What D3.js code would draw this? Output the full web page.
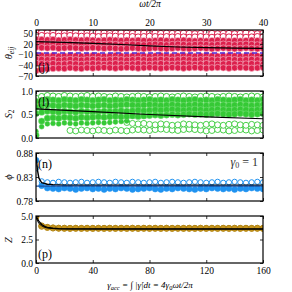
<!DOCTYPE html>
<html><head><meta charset="utf-8">
<script src="https://cdn.jsdelivr.net/npm/d3@7"></script>
<style>body{margin:0;background:#fff}svg{display:block}text{font-family:"Liberation Serif","DejaVu Serif",serif}</style>
</head><body><svg id="c" width="292" height="292"></svg>
<script>
// ---- data ----
const cycles = [0,1,2,3,4,5,6,7,8,9,10,11,12,13,14,15,16,17,18,19,20,21,22,23,24,25,26,27,28,29,30,31,32,33,34,35,36,37,38,39,40];
const topTicks = [0,10,20,30,40];
const gammaTicks = [0,40,80,120,160];

const thetaOpenA = [54,53,52,53,52,51,52,53,52,51,52,52,51,50,51,52,51,50,51,51,50,51,50,51,50,50,51,50,49,50,51,50,49,50,50,49,50,51,50,49,50];
const thetaOpenB = [45,44,43,44,42,43,44,43,42,43,42,41,42,43,42,41,42,41,40,41,42,41,40,41,40,41,40,39,40,41,40,39,40,41,40,39,40,39,40,41,40];
const thetaFillA = [34,33,32,33,31,32,33,32,31,32,31,30,31,32,31,30,31,30,31,30,29,30,31,30,29,30,31,30,29,30,29,30,31,30,29,30,29,30,31,30,29];
const thetaFillB = [22,21,20,21,19,20,21,20,19,20,21,20,19,20,19,18,19,20,19,18,19,20,19,18,19,20,19,18,19,20,19,18,19,20,19,18,19,20,19,18,19];
const thetaFillC = [11,10,9,10,8,9,10,9,8,9,10,9,8,9,8,7,8,9,8,7,8,9,8,7,8,9,8,7,8,9,8,7,8,9,8,7,8,9,8,7,8];
const thetaFillD = [-11,-12,-13,-12,-14,-13,-12,-13,-14,-13,-12,-13,-14,-13,-12,-13,-14,-13,-12,-13,-14,-13,-12,-13,-14,-13,-12,-13,-14,-13,-12,-13,-14,-13,-12,-13,-14,-13,-12,-13,-14];
const thetaFillE = [-22,-23,-24,-23,-25,-24,-23,-24,-25,-24,-23,-24,-25,-24,-23,-24,-25,-24,-23,-24,-25,-24,-23,-24,-25,-24,-23,-24,-25,-24,-23,-24,-25,-24,-23,-24,-25,-24,-23,-24,-25];
const thetaFillF = [-34,-35,-36,-35,-37,-36,-35,-36,-37,-36,-35,-36,-37,-36,-35,-36,-37,-36,-35,-36,-37,-36,-35,-36,-37,-36,-35,-36,-37,-36,-35,-36,-37,-36,-35,-36,-37,-36,-35,-36,-37];
const thetaFillG = [-55,-52,-50,-49,-48,-49,-47,-48,-49,-47,-48,-47,-46,-47,-48,-47,-46,-47,-48,-47,-46,-47,-48,-47,-46,-47,-48,-47,-46,-47,-48,-47,-46,-47,-48,-47,-46,-47,-48,-47,-46];
const thetaLineT = [0,5,10,15,20,25,30,35,40];
const thetaLine = [27,25,22,19,15,12,10,9,8];
const thetaDash = [-5,-5];
const thetaDashT = [0,40];

const s2OpenTop = [0.84,0.88,0.90,0.89,0.88,0.90,0.89,0.88,0.89,0.90,0.88,0.89,0.88,0.87,0.89,0.88,0.87,0.88,0.89,0.88,0.87,0.88,0.89,0.88,0.87,0.88,0.89,0.88,0.87,0.88,0.89,0.88,0.87,0.88,0.89,0.88,0.87,0.88,0.89,0.88,0.87];
const s2FillA = [0.78,0.80,0.82,0.81,0.80,0.82,0.81,0.80,0.82,0.81,0.80,0.81,0.82,0.80,0.81,0.80,0.82,0.81,0.80,0.81,0.82,0.80,0.81,0.80,0.82,0.81,0.80,0.81,0.82,0.80,0.81,0.80,0.82,0.81,0.80,0.81,0.82,0.80,0.81,0.80,0.82];
const s2FillB = [0.66,0.68,0.70,0.69,0.68,0.70,0.69,0.68,0.70,0.69,0.68,0.69,0.70,0.68,0.69,0.70,0.71,0.70,0.69,0.70,0.71,0.70,0.69,0.70,0.71,0.70,0.69,0.70,0.71,0.70,0.69,0.70,0.71,0.70,0.69,0.70,0.71,0.70,0.69,0.70,0.71];
const s2FillC = [0.52,0.55,0.57,0.56,0.55,0.57,0.56,0.55,0.57,0.56,0.55,0.56,0.57,0.56,0.57,0.58,0.57,0.58,0.59,0.58,0.59,0.60,0.59,0.60,0.61,0.60,0.59,0.60,0.61,0.60,0.59,0.60,0.61,0.60,0.59,0.60,0.61,0.60,0.59,0.60,0.61];
const s2FillD = [0.06,0.36,0.42,0.43,0.42,0.44,0.43,0.42,0.44,0.43,0.44,0.45,0.44,0.45,0.46,0.45,0.46,0.47,0.46,0.47,0.48,0.49,0.48,0.49,0.50,0.49,0.50,0.51,0.50,0.51,0.50,0.51,0.52,0.51,0.50,0.51,0.52,0.51,0.50,0.51,0.52];
const s2FillET = [0,1,2,3,4,5,6,7,8,9,10,11,12,13,14,15,16];
const s2FillE = [0.14,0.24,0.30,0.31,0.30,0.32,0.31,0.30,0.32,0.31,0.32,0.33,0.32,0.33,0.34,0.35,0.36];
const s2OpenLowT = [6,7,8,9,10,11,12,13,14,15,16,17,18,19,20,21,22,23,24,25,26,27,28,29,30,31,32,33,34,35,36,37,38,39,40];
const s2OpenLow = [0.16,0.15,0.17,0.16,0.15,0.17,0.16,0.15,0.17,0.16,0.15,0.17,0.18,0.17,0.16,0.18,0.19,0.18,0.17,0.16,0.18,0.19,0.18,0.17,0.15,0.16,0.18,0.17,0.15,0.16,0.18,0.17,0.15,0.16,0.17];
const s2OpenMidT = [16,17,18,19,20,21,22,23,24,25,26,27,28,29,30,31,32,33,34,35,36,37,38,39,40];
const s2OpenMid = [0.33,0.31,0.30,0.31,0.29,0.28,0.30,0.29,0.27,0.28,0.30,0.29,0.28,0.27,0.29,0.30,0.28,0.27,0.29,0.30,0.28,0.27,0.29,0.28,0.27];
const s2LineT = [0,10,20,30,40];
const s2Line = [0.62,0.56,0.50,0.45,0.41];

const phiFill = [0.865,0.812,0.807,0.806,0.805,0.807,0.806,0.804,0.806,0.807,0.805,0.806,0.804,0.806,0.805,0.807,0.806,0.804,0.805,0.806,0.807,0.805,0.804,0.806,0.805,0.807,0.806,0.805,0.804,0.806,0.805,0.807,0.806,0.805,0.806,0.804,0.806,0.805,0.807,0.806,0.805];
const phiOpen = [0.848,0.821,0.819,0.818,0.820,0.819,0.818,0.819,0.820,0.818,0.819,0.820,0.819,0.818,0.820,0.819,0.818,0.820,0.819,0.818,0.819,0.820,0.818,0.819,0.820,0.819,0.818,0.819,0.820,0.819,0.818,0.819,0.820,0.818,0.819,0.820,0.819,0.818,0.819,0.820,0.819];
const phiLineT = [0,0.25,0.5,1,2,3,5,10,20,30,40];
const phiLine = [0.878,0.845,0.828,0.818,0.815,0.814,0.813,0.813,0.813,0.813,0.813];

const zFill = [5.0,3.95,3.80,3.74,3.71,3.70,3.69,3.70,3.69,3.70,3.69,3.70,3.69,3.70,3.69,3.70,3.69,3.70,3.69,3.70,3.69,3.70,3.69,3.70,3.69,3.70,3.69,3.70,3.69,3.70,3.69,3.70,3.69,3.70,3.69,3.70,3.69,3.70,3.69,3.70,3.69];
const zOpen = [4.9,3.90,3.78,3.72,3.70,3.69,3.68,3.69,3.68,3.69,3.68,3.69,3.68,3.69,3.68,3.69,3.68,3.69,3.68,3.69,3.68,3.69,3.68,3.69,3.68,3.69,3.68,3.69,3.68,3.69,3.68,3.69,3.68,3.69,3.68,3.69,3.68,3.69,3.68,3.69,3.68];
const zLineT = [0,0.5,1,1.5,2,3,4,6,10,40];
const zLine1 = [5.0,4.45,4.1,3.9,3.8,3.7,3.66,3.64,3.63,3.62];
const zLine2 = [4.85,4.2,3.95,3.8,3.72,3.66,3.63,3.62,3.61,3.60];

// ---- layout ----
const svg = d3.select("#c");
const L = 36, R = 263;
const xT = d3.scaleLinear().domain([0,40]).range([L,R]);
const xG = d3.scaleLinear().domain([0,160]).range([L,R]);
const panels = [
  {top:30, bot:76, dom:[-70,60], ticks:[-70,-40,-10,20,50], fmt:d3.format("d")},
  {top:91, bot:138, dom:[0,1], ticks:[0,0.5,1], fmt:d3.format(".1f")},
  {top:153, bot:201, dom:[0.78,0.88], ticks:[0.78,0.83,0.88], fmt:d3.format(".2f")},
  {top:216, bot:263, dom:[0,5], ticks:[0,2.5,5], fmt:d3.format(".1f")}
];
panels.forEach((p,i)=>{
  p.y = d3.scaleLinear().domain(p.dom).range([p.bot,p.top]);
  p.g = svg.append("g");
  svg.append("clipPath").attr("id","cp"+i).append("rect").attr("x",L).attr("y",p.top).attr("width",R-L).attr("height",p.bot-p.top);
  p.d = p.g.append("g").attr("clip-path","url(#cp"+i+")");
});

function dots(p, xs, ys, r, fill, stroke, sw) {
  p.d.append("g").selectAll("circle").data(ys).join("circle")
    .attr("cx",(d,i)=>xT(xs[i])).attr("cy",d=>p.y(d)).attr("r",r)
    .attr("fill",fill).attr("stroke",stroke).attr("stroke-width",sw);
}
function line(p, xs, ys, color, w, dash) {
  const ln = d3.line().x((d,i)=>xT(xs[i])).y(d=>p.y(d));
  const path = p.d.append("path").datum(ys).attr("d",ln).attr("fill","none").attr("stroke",color).attr("stroke-width",w);
  if (dash) path.attr("stroke-dasharray",dash);
}

const red="#dc1f4c", redE="#f7c0cc";
// theta panel
const P0=panels[0];
dots(P0,cycles,thetaOpenA,3.2,"#fff",red,1);
dots(P0,cycles,thetaOpenB,3.2,"#fff",red,1);
[thetaFillA,thetaFillB,thetaFillC,thetaFillD,thetaFillE,thetaFillF,thetaFillG].forEach(s=>dots(P0,cycles,s,3.2,red,redE,0.6));
line(P0,thetaLineT,thetaLine,"#000",1.2);
line(P0,thetaDashT,thetaDash,"#4a2ad8",1.6,"5,3");

// S2 panel
const P1=panels[1], gr="#35c935";
dots(P1,s2OpenLowT,s2OpenLow,3,"#fff",gr,0.9);
dots(P1,s2OpenMidT,s2OpenMid,3,"#fff",gr,0.9);
dots(P1,s2FillET,s2FillE,2.4,gr,gr,0.5);
dots(P1,cycles,s2OpenTop,3.2,"#fff",gr,1);
[s2FillA,s2FillB,s2FillC,s2FillD].forEach(s=>dots(P1,cycles,s,3.2,gr,"#7ee07e",0.5));
line(P1,s2LineT,s2Line,"#000",1.2);

// phi panel
const P2=panels[2], bl="#1f92f0";
dots(P2,cycles,phiOpen,2.6,"#fff",bl,1);
dots(P2,cycles,phiFill,3,bl,bl,0.5);
line(P2,phiLineT,phiLine,"#000",1.4);
line(P2,[0,40],[0.811,0.811],"#1a4fa0",1.2);

// Z panel
const P3=panels[3], au="#c8961c";
dots(P3,cycles,zOpen,3,"#fff",au,1);
dots(P3,cycles,zFill,3,au,"#a07710",0.6);
line(P3,zLineT,zLine1,"#000",1.3);
line(P3,zLineT,zLine2,"#000",1);

// axes / frames
panels.forEach((p,i)=>{
  const g=p.g;
  const la=g.append("g").attr("transform",`translate(${L},0)`).call(d3.axisLeft(p.y).tickValues(p.ticks).tickFormat(p.fmt).tickSizeInner(-3).tickSizeOuter(0).tickPadding(3));
  const ra=g.append("g").attr("transform",`translate(${R},0)`).call(d3.axisRight(p.y).tickValues(p.ticks).tickFormat("").tickSizeInner(-3).tickSizeOuter(0));
  const ta=g.append("g").attr("transform",`translate(0,${p.top})`).call(d3.axisTop(xT).tickValues(topTicks).tickFormat(i===0?d3.format("d"):"").tickSizeInner(-3).tickSizeOuter(0).tickPadding(4));
  const ba=g.append("g").attr("transform",`translate(0,${p.bot})`).call(d3.axisBottom(xG).tickValues(gammaTicks).tickFormat(i===3?d3.format("d"):"").tickSizeInner(-3).tickSizeOuter(0).tickPadding(4));
  [la,ra,ta,ba].forEach(a=>{a.select(".domain").remove();a.selectAll("line").attr("stroke","#000").attr("stroke-width",0.8);a.selectAll("text").attr("font-size",9.5).attr("font-family","Liberation Serif").attr("fill","#000");});
  g.append("rect").attr("x",L).attr("y",p.top).attr("width",R-L).attr("height",p.bot-p.top).attr("fill","none").attr("stroke","#000").attr("stroke-width",1.2);
});

// panel letters
const lab=[["(j)",0,38,71],["(l)",1,38,106],["(n)",2,38,168],["(p)",3,38,258]];
lab.forEach(d=>svg.append("text").attr("x",d[2]).attr("y",d[3]).attr("font-size",12).text(d[0]));
svg.append("text").attr("x",258).attr("y",166).attr("text-anchor","end").attr("font-size",12).attr("font-style","italic").attr("fill","#333")
  .html('γ<tspan font-size="8" dy="2" font-style="normal">0</tspan><tspan dy="-2" font-style="normal"> = 1</tspan>');

// y labels
function ylab(y, html){ svg.append("text").attr("transform",`translate(12,${y}) rotate(-90)`).attr("text-anchor","middle").attr("font-size",10.5).attr("font-style","italic").html(html); }
ylab(53,'θ<tspan font-size="7.5" dy="2">eij</tspan>');
ylab(114,'S<tspan font-size="7.5" dy="2" font-style="normal">2</tspan>');
ylab(177,'ϕ');
ylab(240,'Z');

// x labels
svg.append("text").attr("x",150).attr("y",7).attr("text-anchor","middle").attr("font-size",9.5).attr("font-style","italic").text("ωt/2π");
svg.append("text").attr("x",150).attr("y",288).attr("text-anchor","middle").attr("font-size",9).attr("font-style","italic")
  .html('γ<tspan font-size="6.5" dy="2">acc</tspan><tspan dy="-2"> = ∫ |γ̇|dt = 4γ</tspan><tspan font-size="6.5" dy="2" font-style="normal">0</tspan><tspan dy="-2">ωt/2π</tspan>');
</script></body></html>
